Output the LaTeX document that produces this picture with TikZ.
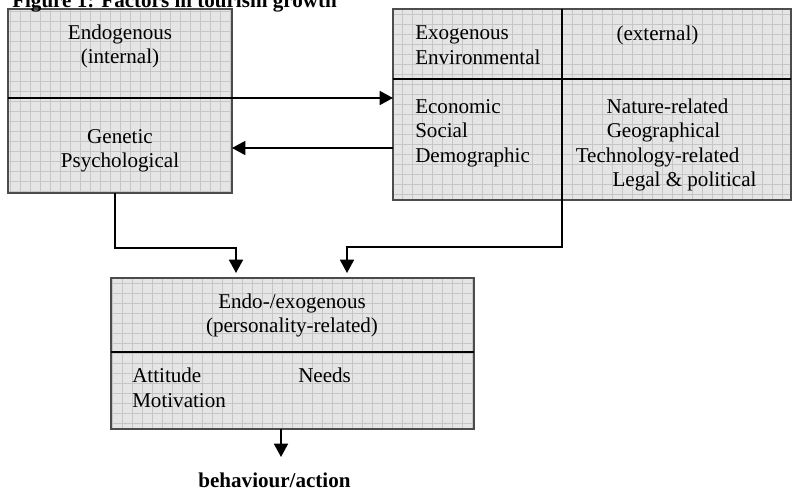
\documentclass[tikz,border=0pt]{standalone}
\usepackage{fontspec}
\setmainfont{Liberation Serif}
\usetikzlibrary{positioning,calc,arrows.meta}
\tikzset{font=\fontsize{15.8}{19}\selectfont}

\begin{document}
\begin{tikzpicture}[x=0.75pt, y=-0.75pt,
	factorbox/.style={draw=black!70, line width=0.8pt, fill=gray!20, inner sep=0pt, outer sep=0pt,
		path picture={\draw[gray!45, line width=0.3pt, step=7.5pt] (path picture bounding box.south west) grid (path picture bounding box.north east);}},
	link/.style={line width=1.3pt, -{Triangle[length=10pt, width=10.5pt]}},
	divider/.style={line width=1.3pt}]
	\useasboundingbox (0,0) rectangle (792,490);

	% the three boxes
	\node[factorbox, minimum width=168pt, minimum height=138pt] (endo) at (120,101) {};
	\node[factorbox, minimum width=298.5pt, minimum height=143.25pt] (exo) at (592,104.5) {};
	\node[factorbox, minimum width=272.25pt, minimum height=113.25pt] (pers) at (292.5,353.5) {};

	\coordinate (endosplit) at (8,98);
	\coordinate (backrow) at (0,148);
	\coordinate (endobend) at (115,248);
	\coordinate (perstopL) at (236,273);
	\coordinate (exobend) at (562,247);
	\coordinate (perstopR) at (347,273);
	\coordinate (actiontip) at (281,457);

	\draw[divider] (exo.west |- 0,79) -- (exo.east |- 0,79);
	\draw[divider] (pers.west |- 0,352) -- (pers.east |- 0,352);

	\draw[link] (endosplit) -- (exo.west |- endosplit);
	\draw[link] (exo.west |- backrow) -- (endo.east |- backrow);
	\draw[link] (endo.south -| endobend) -- (endobend) -| (perstopL);
	\draw[link] (exo.north -| exobend) -- (exobend) -| (perstopR);
	\draw[link] (pers.south -| actiontip) -- (actiontip);

	\begin{scope}
		\tikzstyle{every node}=[inner sep=0pt, anchor=base]
		\node[anchor=base west, font=\fontsize{15.8}{19}\selectfont\bfseries] (title) at (12,7) {Figure 1: Factors in tourism growth};

		\node (endoname) at (120,39) {Endogenous};
		\node (endokind) at (120,63) {(internal)};
		\node (genetic) at (120,143) {Genetic};
		\node (psych) at (120,167) {Psychological};

		\node[anchor=base west] (exoname) at (415,39) {Exogenous};
		\node[anchor=base west] (environ) at (415,64) {Environmental};
		\node (exokind) at (657.5,40) {(external)};
		\node[anchor=base west] (economic) at (415,113) {Economic};
		\node[anchor=base west] (social) at (415,137) {Social};
		\node[anchor=base west] (demog) at (415,162) {Demographic};
		\node (nature) at (667.5,113) {Nature-related};
		\node (geo) at (663.5,137) {Geographical};
		\node (techno) at (657.5,162) {Technology-related};
		\node (legal) at (684.5,186) {Legal \& political};

		\node (persname) at (292,308) {Endo-/exogenous};
		\node (perskind) at (292,332) {(personality-related)};
		\node[anchor=base west] (attitude) at (132,382) {Attitude};
		\node[anchor=base west] (motiv) at (132,407) {Motivation};
		\node[anchor=base west] (needs) at (298,382) {Needs};

		\node[font=\fontsize{15.8}{19}\selectfont\bfseries] (action) at (274.5,487) {behaviour/action};
	\end{scope}
\end{tikzpicture}
\end{document}
